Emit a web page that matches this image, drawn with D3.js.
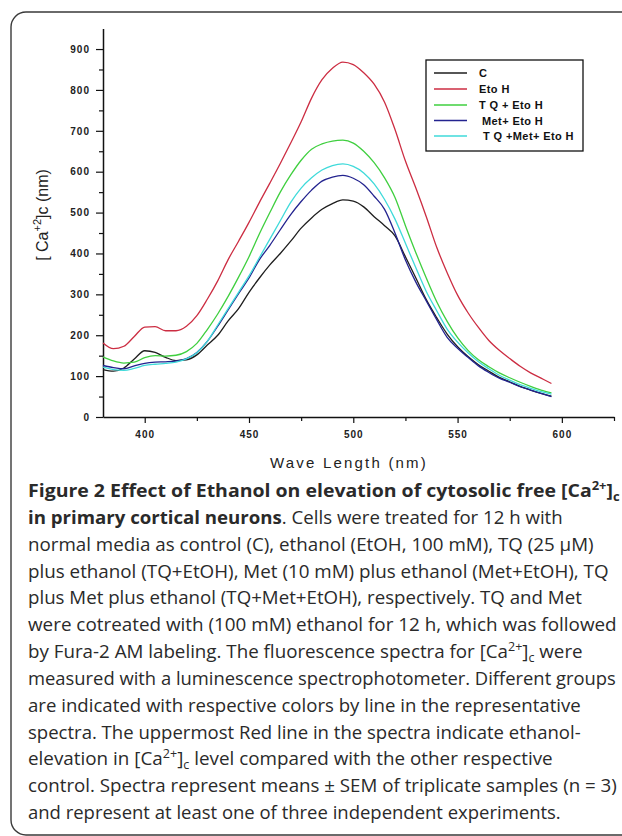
<!DOCTYPE html>
<html>
<head>
<meta charset="utf-8">
<style>
  body { margin: 0; background: #fff; }
  svg { display: block; }
</style>
</head>
<body>
<svg width="622" height="836"></svg>
<script src="https://d3js.org/d3.v7.min.js"></script>
<script>

// Fluorescence spectra of cytosolic free Ca2+ for five treatment groups

var wavelength = [380,385,390,395,400,405,410,415,420,425,430,435,440,445,450,455,460,465,470,475,
                  480,485,490,495,500,505,510,515,520,525,530,535,540,545,550,555,560,565,570,575,
                  580,585,590,595];

var control   = [116,112,120,142,162,158,146,138,140,152,176,200,235,265,305,340,372,400,430,462,
                 487,508,522,531,528,514,490,468,443,392,340,287,243,203,172,148,128,112,97,86,
                 75,66,58,51];
var ethanol   = [181,167,173,197,220,221,211,211,222,248,288,333,385,430,476,525,572,620,670,722,
                 780,825,853,868,862,842,814,770,703,626,560,490,415,353,298,255,219,187,163,143,
                 124,108,95,82];
var tqEthanol = [147,137,132,134,145,150,149,151,160,180,214,252,295,342,392,448,500,550,592,628,
                 655,668,675,677,670,650,622,585,537,468,402,340,282,234,194,163,140,123,108,96,
                 85,75,66,59];
var metEthanol = [126,121,118,125,131,134,135,137,143,158,185,222,262,302,340,385,420,458,495,527,
                  555,577,587,591,584,568,540,508,450,384,330,284,238,195,168,146,125,109,95,85,
                  74,66,58,50];
var tqMetEthanol = [122,116,114,119,126,129,131,134,142,157,185,225,265,305,345,390,435,480,525,560,
                    585,604,615,619,613,597,570,532,484,425,365,307,260,215,183,157,135,118,102,90,
                    79,70,62,56];

var seriesNames  = ["C", "Eto H", "T Q + Eto H", "Met+ Eto H", "T Q +Met+ Eto H"];
var seriesColors = ["#1e1e1e", "#cc2d42", "#3fcf3f", "#23238f", "#3fdada"];
var seriesValues = [control, ethanol, tqEthanol, metEthanol, tqMetEthanol];

var yMajor = [0,100,200,300,400,500,600,700,800,900];
var yMinor = [50,150,250,350,450,550,650,750,850];
var xMajor = [400,450,500,550,600];
var xMinor = [425,475,525,575,625];

var svg = d3.select("svg");

// rounded frame round the figure
svg.append("rect")
    .attr("x", 11).attr("y", 12)
    .attr("width", 700).attr("height", 823)
    .attr("rx", 15)
    .attr("fill", "none")
    .attr("stroke", "#3a3a3a")
    .attr("stroke-width", 1.4);

var x = d3.scaleLinear().domain([380, 625]).range([103, 614]);
var y = d3.scaleLinear().domain([0, 950]).range([417, 28.6]);

var tickFont = "'Liberation Sans', Arial, sans-serif";

// y axis
svg.append("g")
    .attr("transform", "translate(" + x(380) + ",0)")
    .call(d3.axisLeft(y).tickValues(yMajor).tickSize(7).tickSizeOuter(0).tickPadding(6));
svg.append("g")
    .attr("transform", "translate(" + x(380) + ",0)")
    .call(d3.axisLeft(y).tickValues(yMinor).tickSize(4).tickFormat(""))
  .select(".domain").remove();

// x axis
svg.append("g")
    .attr("transform", "translate(0," + y(0) + ")")
    .call(d3.axisBottom(x).tickValues(xMajor).tickSize(6).tickSizeOuter(0).tickPadding(8));
svg.append("g")
    .attr("transform", "translate(0," + y(0) + ")")
    .call(d3.axisBottom(x).tickValues(xMinor).tickSize(4).tickFormat(""))
  .select(".domain").remove();

svg.selectAll(".domain").attr("stroke", "#111").attr("stroke-width", 1.5);
svg.selectAll(".tick line").attr("stroke", "#111").attr("stroke-width", 1.2);
svg.selectAll(".tick text")
    .attr("font-family", tickFont)
    .attr("font-size", 10)
    .attr("font-weight", "bold")
    .attr("letter-spacing", 1)
    .attr("fill", "#222");

// axis titles
svg.append("text")
    .attr("x", 349).attr("y", 468)
    .attr("text-anchor", "middle")
    .attr("font-family", tickFont)
    .attr("font-size", 15)
    .attr("letter-spacing", 2.2)
    .attr("fill", "#222")
    .text("Wave Length (nm)");

var yTitle = svg.append("text")
    .attr("transform", "translate(48,215) rotate(-90)")
    .attr("text-anchor", "middle")
    .attr("font-family", tickFont)
    .attr("font-size", 16)
    .attr("fill", "#222");
yTitle.append("tspan").text("[ Ca");
yTitle.append("tspan").attr("dy", -7).attr("font-size", 11).text("+2");
yTitle.append("tspan").attr("dy", 7).text("]c (nm)");

// spectra
var line = d3.line()
    .x(function(d, i) { return x(wavelength[i]); })
    .y(function(d) { return y(d); })
    .curve(d3.curveMonotoneX);

svg.append("g").selectAll("path")
    .data(seriesValues)
  .enter().append("path")
    .attr("fill", "none")
    .attr("stroke", function(d, i) { return seriesColors[i]; })
    .attr("stroke-width", 1.3)
    .attr("stroke-linejoin", "round")
    .attr("d", line);

// legend
var legend = svg.append("g");
legend.append("rect")
    .attr("x", 426).attr("y", 60)
    .attr("width", 157).attr("height", 91)
    .attr("fill", "#fff")
    .attr("stroke", "#111")
    .attr("stroke-width", 1.3);
var rowY = [73, 89, 105, 120.5, 136];
var textX = [479, 479, 479, 482, 483];
seriesNames.forEach(function(name, i) {
  legend.append("line")
      .attr("x1", 434).attr("x2", 467)
      .attr("y1", rowY[i]).attr("y2", rowY[i])
      .attr("stroke", seriesColors[i])
      .attr("stroke-width", 1.4);
  legend.append("text")
      .attr("x", textX[i]).attr("y", rowY[i] + 4)
      .attr("font-family", tickFont)
      .attr("font-size", 11)
      .attr("font-weight", "bold")
      .attr("letter-spacing", 0.4)
      .attr("fill", "#111")
      .text(name);
});

// caption
var caption = [
  [{t: "Figure 2 Effect of Ethanol on elevation of cytosolic free [Ca", b: 1}, {t: "2+", b: 1, sup: 1}, {t: "]", b: 1}, {t: "c", b: 1, sub: 1}],
  [{t: "in primary cortical neurons", b: 1}, {t: ". Cells were treated for 12 h with"}],
  [{t: "normal media as control (C), ethanol (EtOH, 100 mM), TQ (25 \u00b5M)"}],
  [{t: "plus ethanol (TQ+EtOH), Met (10 mM) plus ethanol (Met+EtOH), TQ"}],
  [{t: "plus Met plus ethanol (TQ+Met+EtOH), respectively. TQ and Met"}],
  [{t: "were cotreated with (100 mM) ethanol for 12 h, which was followed"}],
  [{t: "by Fura-2 AM labeling. The fluorescence spectra for [Ca"}, {t: "2+", sup: 1}, {t: "]"}, {t: "c", sub: 1}, {t: " were"}],
  [{t: "measured with a luminescence spectrophotometer. Different groups"}],
  [{t: "are indicated with respective colors by line in the representative"}],
  [{t: "spectra. The uppermost Red line in the spectra indicate ethanol-"}],
  [{t: "elevation in [Ca"}, {t: "2+", sup: 1}, {t: "]"}, {t: "c", sub: 1}, {t: " level compared with the other respective"}],
  [{t: "control. Spectra represent means \u00b1 SEM of triplicate samples (n = 3)"}],
  [{t: "and represent at least one of three independent experiments."}]
];
// right end of every caption line in the figure, so each line keeps its width
var captionEnds = [620, 563, 594, 609, 582, 617, 583, 616, 581, 581, 553, 617, 561];

var capG = svg.append("g");
caption.forEach(function(parts, li) {
  var lg = capG.append("g");
  var txt = lg.append("text")
      .attr("x", 0)
      .attr("y", 497 + li * 26.85)
      .attr("font-family", "'Open Sans', sans-serif")
      .attr("font-size", 18)
      .attr("fill", "#2a2a2a");
  var shift = 0;
  parts.forEach(function(p) {
    var want = p.sup ? -7 : (p.sub ? 4 : 0);
    var ts = txt.append("tspan")
        .attr("dy", want - shift)
        .attr("font-weight", p.b ? "bold" : "normal")
        .text(p.t);
    if (p.sup || p.sub) ts.attr("font-size", 12);
    shift = want;
  });
  var w = txt.node().getBBox().width;
  var k = (captionEnds[li] - 28) / w;
  lg.attr("transform", "translate(28,0) scale(" + k + ",1)");
});

</script>
</body>
</html>
